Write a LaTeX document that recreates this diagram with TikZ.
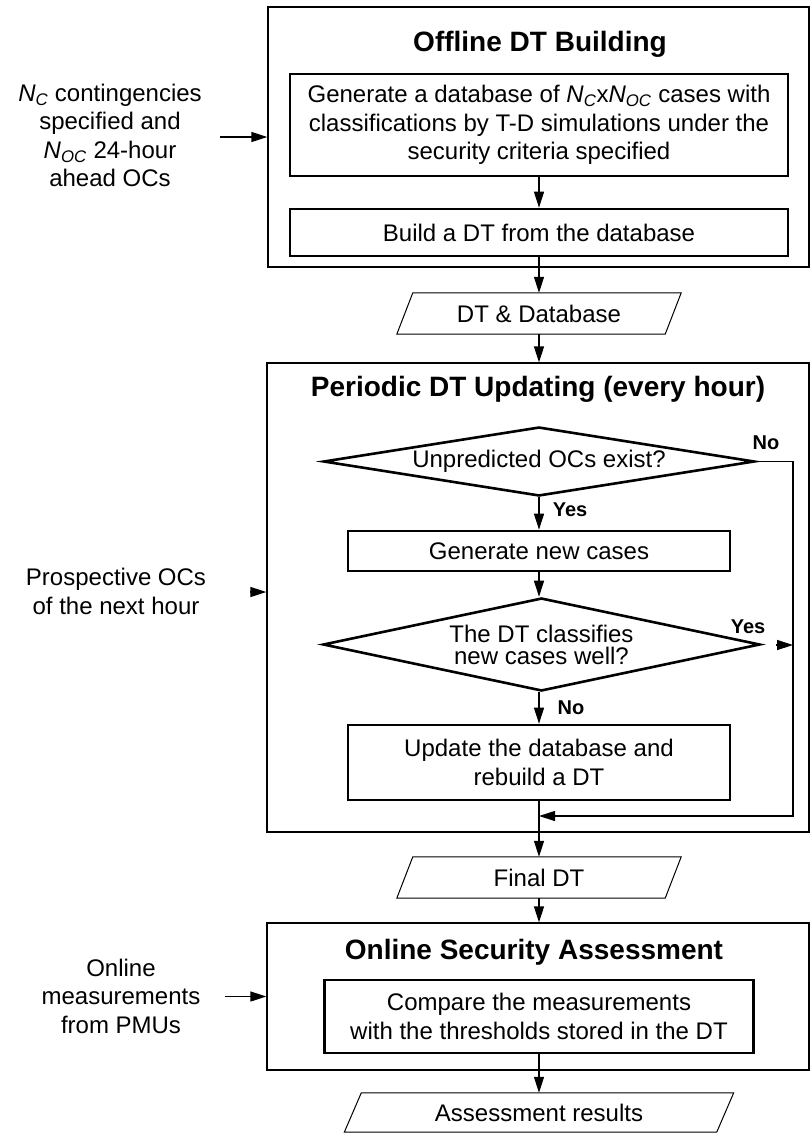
\documentclass[tikz,border=0pt]{standalone}
\usepackage{fontspec}
\setmainfont{Liberation Sans}
\usetikzlibrary{arrows.meta,shapes.geometric}

% italic N with an italic subscript
\newcommand\Nsub[1]{\textit{N}\textsubscript{\textit{#1}}}
% slanted outline (data symbol) around a rectangular node: #1 node, #2 half slant
\newcommand\dataoutline[2]{%
  \draw[line width=1pt] ([xshift=#2]#1.north west) -- ([xshift=#2]#1.north east)
    -- ([xshift=-#2]#1.south east) -- ([xshift=-#2]#1.south west) -- cycle;}

\begin{document}
\begin{tikzpicture}[x=1pt,y=-1pt,
  font=\fontsize{24}{28.5}\selectfont,
  outer/.style={draw, line width=1.3pt, inner sep=0},
  procbox/.style={draw, line width=2.7pt, align=center, inner sep=0},
  decision/.style={diamond, draw, line width=2.6pt, inner sep=0, align=center},
  datanode/.style={inner sep=0, minimum height=41},
  heading/.style={font=\bfseries\fontsize{28}{32}\selectfont, anchor=base},
  flag/.style={font=\bfseries\fontsize{20}{24}\selectfont},
  side/.style={align=center},
  arr/.style={-{Triangle[length=16pt,width=10pt]}, line width=1.3pt},
  loopline/.style={-{Triangle[length=16pt,width=10pt]}, line width=1.1pt}]
\useasboundingbox (0,0) rectangle (811,1133);

% ---------- offline stage ----------
\node[outer, minimum width=541, minimum height=260] (offbox) at (538.5,137) {};
\node[heading] (offtitle) at (540,51.7) {Offline DT Building};
\node[procbox, minimum width=498, minimum height=102] (gendb) at (539,125)
  {Generate a database of \Nsub{C}x\Nsub{OC} cases with\\classifications by T-D simulations under the\\security criteria specified};
\node[procbox, minimum width=498, minimum height=47] (build) at (539,232.5)
  {Build a DT from the database};
\node[side] (inputs) at (110,135.5)
  {\Nsub{C} contingencies\\specified and\\\Nsub{OC} 24-hour\\ahead OCs};
\coordinate (inputsArrow) at (220,137);

\node[datanode, minimum width=268] (dtdb) at (539,313.5) {DT \& Database};
\dataoutline{dtdb}{8pt}

% ---------- periodic updating ----------
\node[outer, minimum width=542, minimum height=469] (perbox) at (538,597.5) {};
\node[heading] (pertitle) at (538,396.5) {Periodic DT Updating (every hour)};
\node[decision, minimum width=431, minimum height=69, aspect=6.2] (exist) at (539,461.5)
  {Unpredicted OCs exist?};
\node[procbox, minimum width=382, minimum height=40] (newcases) at (539,551)
  {Generate new cases};
\node[decision, minimum width=437, minimum height=93, aspect=4.7,
      font=\fontsize{24}{22}\selectfont] (classify) at (541.5,644.5)
  {The DT classifies\\new cases well?};
\node[procbox, minimum width=382, minimum height=75] (update) at (539,762.5)
  {Update the database and\\rebuild a DT};

\node[flag] (noA) at (766,443) {No};
\node[flag] (yesA) at (570,509.5) {Yes};
\node[flag] (yesB) at (748,627) {Yes};
\node[flag] (noB) at (571,707.5) {No};

\node[side] (prospective) at (116,591.5) {Prospective OCs\\of the next hour};
\coordinate (prosArrow) at (250,592);

\coordinate (loopSE) at (793,816);
\coordinate (merge) at (update.south |- loopSE);
\coordinate (yesArrow) at (776,645);

\node[datanode, minimum width=268] (finaldt) at (539,877.5) {Final DT};
\dataoutline{finaldt}{8pt}

% ---------- online assessment ----------
\node[outer, minimum width=542, minimum height=147] (onbox) at (538,996.5) {};
\node[heading] (ontitle) at (534,959) {Online Security Assessment};
\node[procbox, minimum width=429, minimum height=73] (compare) at (539,1016.5)
  {Compare the measurements\\with the thresholds stored in the DT};
\node[side] (pmu) at (121,996) {Online\\measurements\\from PMUs};
\coordinate (pmuArrow) at (225,996.5);

\node[datanode, minimum width=372, minimum height=39] (results) at (539,1112.5)
  {Assessment results};
\dataoutline{results}{8.5pt}

% ---------- connectors ----------
\draw[arr] (inputsArrow) -- (inputsArrow -| offbox.west);
\draw[arr] (gendb.south) -- (build.north);
\draw[arr] (build.south) -- (dtdb.north);
\draw[arr] (dtdb.south) -- (dtdb.south |- perbox.north);
\draw[arr] (prosArrow) -- (prosArrow -| perbox.west);
\draw[arr] (exist.south) -- (exist.south |- newcases.north);
\draw[arr] (newcases.south) -- (newcases.south |- classify.north);
\draw[arr] (update.north |- classify.south) -- (update.north);
\draw[loopline] (exist.east) -| (loopSE) -- (merge);
\draw[arr] (yesArrow) -- (yesArrow -| loopSE);
\draw[arr] (update.south) -- (finaldt.north);
\draw[arr] (finaldt.south) -- (finaldt.south |- onbox.north);
\draw[arr] (pmuArrow) -- (pmuArrow -| onbox.west);
\draw[arr] (compare.south) -- (results.north);
\end{tikzpicture}
\end{document}
